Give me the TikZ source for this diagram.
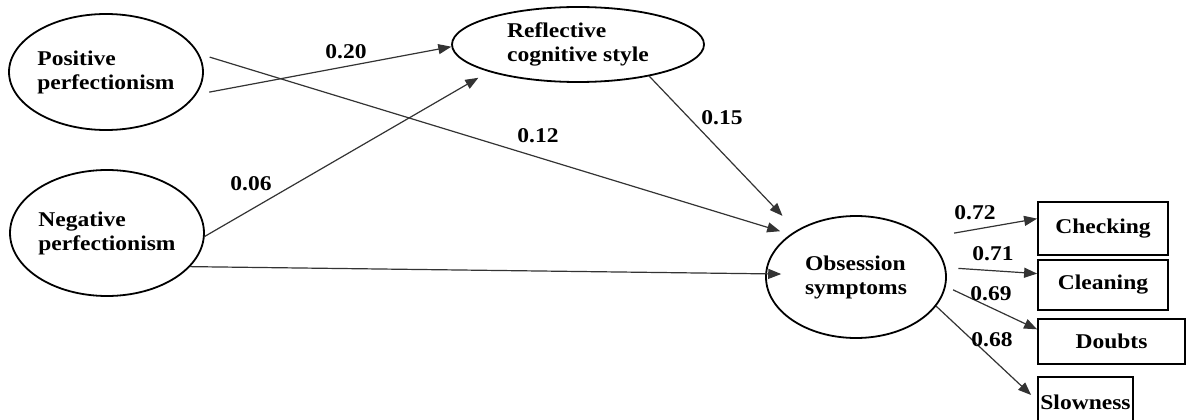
\documentclass[tikz,border=0pt]{standalone}
\usepackage{fontspec}
\setmainfont[FakeStretch=1.12]{Liberation Serif}
\usetikzlibrary{arrows.meta,calc,shapes.geometric}
\begin{document}
\begin{tikzpicture}[x=1pt,y=-1pt,
  txt/.style={font=\bfseries\fontsize{21}{24}\selectfont},
  ell/.style={txt, draw=black, line width=1.8pt, ellipse, inner sep=0pt, align=left},
  box/.style={txt, draw=black, line width=1.8pt, rectangle, inner sep=0pt},
  lbl/.style={txt, inner sep=0pt},
  conn/.style={draw=black!80, line width=1.2pt, -{Triangle[length=13pt,width=10pt]}}
]
\useasboundingbox[fill=white] (0,0) rectangle (1192,420);

\node[ell, minimum width=192pt, minimum height=116pt] (pos) at (106,72) {Positive\\perfectionism};
\node[ell, minimum width=252pt, minimum height=75pt] (ref) at (578,44.5) {Reflective\\cognitive style};
\node[ell, minimum width=190pt, minimum height=126pt] (neg) at (107,233) {Negative\\perfectionism};
\node[ell, minimum width=180pt, minimum height=122pt] (obs) at (856,277) {Obsession\\symptoms};

\node[box, minimum width=130pt, minimum height=53pt] (chk) at (1103,228.5) {Checking};
\node[box, minimum width=130pt, minimum height=50pt] (cln) at (1103,285) {Cleaning};
\node[box, minimum width=147pt, minimum height=45pt] (dbt) at (1111.5,341.5) {Doubts};
\node[box, minimum width=95pt, minimum height=50pt] (slw) at (1085.5,402) {Slowness};

\draw[conn, shorten <=13pt] (pos.-14) -- (ref.181);
\draw[conn, shorten <=11pt, shorten >=10.5pt] (pos.11.6) -- (obs.147.6);
\draw[conn, shorten >=12pt] (neg.-2) -- (ref.197.6);
\draw[conn, shorten >=20pt] (ref.-24) -- (obs.142.7);
\draw[conn, shorten >=-16pt] (neg.-22) -- (obs.178);
\draw[conn, shorten <=28pt] (obs.29.5) -- ($(chk.north west)!0.32!(chk.south west)$);
\draw[conn, shorten <=12.5pt] (obs.6.8) -- ($(cln.north west)!0.28!(cln.south west)$);
\draw[conn, shorten <=8pt] (obs.-6.1) -- ($(dbt.north west)!0.24!(dbt.south west)$);
\draw[conn] (obs.-20.6) -- ($(slw.west)+(-6,-7)$);

\node[lbl] (l20) at (346,52) {0.20};
\node[lbl] (l12) at (538,136) {0.12};
\node[lbl] (l15) at (722,118) {0.15};
\node[lbl] (l06) at (251,184) {0.06};
\node[lbl] (l72) at (975,213) {0.72};
\node[lbl] (l71) at (993,254) {0.71};
\node[lbl] (l69) at (991,294) {0.69};
\node[lbl] (l68) at (992,340) {0.68};
\end{tikzpicture}
\end{document}
